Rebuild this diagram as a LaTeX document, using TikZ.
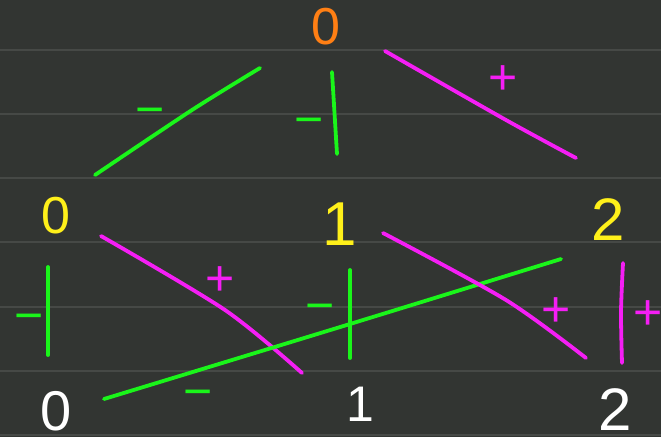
\documentclass[tikz,border=0pt]{standalone}
\usepackage{fontspec}
\setmainfont{Liberation Sans}
\definecolor{bg}{HTML}{323532}
\definecolor{rulecol}{HTML}{464946}
\definecolor{pengreen}{HTML}{1AF51A}
\definecolor{penmagenta}{HTML}{F51EF5}
\definecolor{penorange}{HTML}{FF7F14}
\definecolor{penyellow}{HTML}{FFF01A}
\begin{document}
\begin{tikzpicture}[x=1pt,y=-1pt,
  stroke/.style={line width=3.8pt,line cap=round,line join=round},
  gstroke/.style={stroke,draw=pengreen},
  mstroke/.style={stroke,draw=penmagenta},
  digit/.style={anchor=base,inner sep=0pt,font=\fontsize{#1}{#1}\selectfont},
  digit/.default=52,
  sign/.style={anchor=base,inner sep=0pt,font=\fontsize{50}{60}\selectfont}]
\fill[bg] (0,0) rectangle (661,437);
\useasboundingbox (0,0) rectangle (661,437);
\foreach \y in {50,114,178,242,307,371,435}
  \draw[rulecol,line width=1.6pt] (0,\y) -- (661,\y);
% digits
\node[digit=52,text=penorange] (t0) at (326,44) {0};
\node[digit=52,text=penyellow] (m0) at (56,233) {0};
\node[digit=62,text=penyellow] (m1) at (340,245) {1};
\node[digit=60,text=penyellow] (m2) at (608,240) {2};
\node[digit=56,text=white] (b0) at (56,430) {0};
\node[digit=50,text=white] (b1) at (360,421) {1};
\node[digit=60,text=white] (b2) at (615,430) {2};
% connectors
\draw[gstroke] plot[smooth,tension=0.5] coordinates {(95,175) (192,110) (260,68)};
\draw[gstroke] (332,72) -- (337,154);
\draw[mstroke] plot[smooth,tension=0.5] coordinates {(385,51) (506,120) (576,158)};
\draw[mstroke] plot[smooth,tension=0.5] coordinates {(101,236) (225,310) (302,373)};
\draw[gstroke] (48,267) -- (48,355);
\draw[gstroke] (350,270) -- (350,358);
\draw[gstroke] plot[smooth,tension=0.5] coordinates {(104,399) (350,324) (561,259)};
\draw[mstroke] plot[smooth,tension=0.5] coordinates {(383,233) (506,300) (586,358)};
\draw[mstroke] plot[smooth,tension=0.5] coordinates {(623,263) (621,312) (622,363)};
% signs
\node[sign,text=pengreen] (s1) at (150,126.5) {−};
\node[sign,text=pengreen] (s2) at (309,136.5) {−};
\node[sign,text=penmagenta] (s3) at (503,94.5) {+};
\node[sign,text=penmagenta] (s4) at (220,295.5) {+};
\node[sign,text=pengreen] (s5) at (29,332.5) {−};
\node[sign,text=pengreen] (s6) at (320,322.5) {−};
\node[sign,text=pengreen] (s7) at (198,408.5) {−};
\node[sign,text=penmagenta] (s8) at (556,326.5) {+};
\node[sign,text=penmagenta] (s9) at (648,329.5) {+};
\end{tikzpicture}
\end{document}
